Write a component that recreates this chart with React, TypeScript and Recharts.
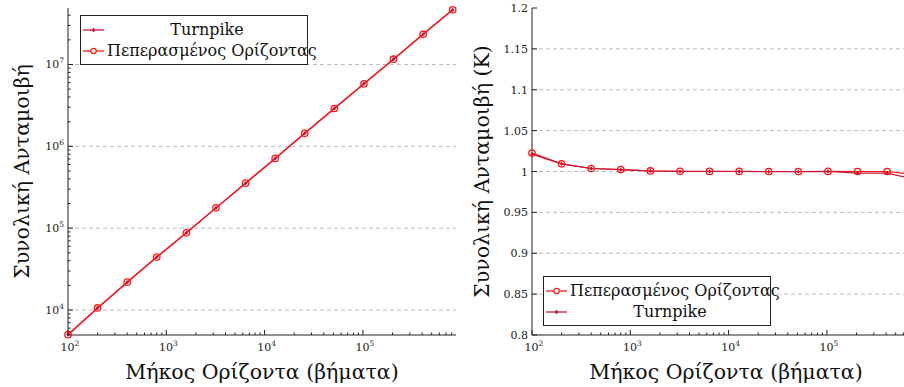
import { Label, Legend, Line, LineChart, ReferenceLine, XAxis, YAxis } from "recharts";

const FONT = "'DejaVu Serif', serif";
const RED = "#ff1414";
const CRIMSON = "#c8143c";

const horizons = [100, 200, 400, 800, 1600, 3200, 6400, 12800, 25600, 51200, 102400, 204800, 409600, 819200];

// total reward (left panel)
const totalTurnpike = [5000, 10600, 21900, 44300, 87700, 177000, 355000, 712000, 1440000, 2900000, 5800000, 11600000, 23400000, 46500000];
const totalFinite = [5000, 10600, 21900, 44300, 87700, 177000, 355000, 712000, 1440000, 2900000, 5800000, 11600000, 23400000, 46600000];

// ratio K (right panel)
const kFinite = [1.0225, 1.0094, 1.0037, 1.0024, 1.0007, 1.0002, 1.0001, 1.0001, 1.0, 1.0, 1.0001, 1.0, 1.0, 0.996];
const kTurnpike = [1.0212, 1.0094, 1.0037, 1.0022, 1.0006, 1.0, 1.0, 1.0, 0.9998, 0.9998, 1.0, 0.998, 0.998, 0.99];

const xDomain = [100, 885000];
const yLogDomain = [4950, 49000000];
const yLogGrid = [1e4, 1e5, 1e6, 1e7];
const kTicks = [0.8, 0.85, 0.9, 0.95, 1, 1.05, 1.1, 1.15, 1.2];
const kGrid = [0.85, 0.9, 0.95, 1, 1.05, 1.1, 1.15];

const xLabel = "Μήκος Ορίζοντα (βήματα)";
const yLabelLeft = "Συνολική Ανταμοιβή";
const yLabelRight = "Συνολική Ανταμοιβή (Κ)";
const nameFinite = "Πεπερασμένος Ορίζοντας";
const nameTurnpike = "Turnpike";

function logTicks(lo: number, hi: number) {
  const out: number[] = [];
  for (let e = Math.floor(Math.log10(lo)); e <= Math.ceil(Math.log10(hi)); e++) {
    for (let m = 1; m < 10; m++) {
      const v = m * Math.pow(10, e);
      if (v >= lo && v <= hi) out.push(v);
    }
  }
  return out;
}

const isPow10 = (v: number) => Math.abs(Math.log10(v) - Math.round(Math.log10(v))) < 1e-9;

const xTicks = logTicks(xDomain[0], xDomain[1]);
const yLogTicks = logTicks(yLogDomain[0], yLogDomain[1]);

const leftData = horizons.map((h, i) => ({ h, turnpike: totalTurnpike[i], finite: totalFinite[i] }));
const rightData = horizons.map((h, i) => ({ h, finite: kFinite[i], turnpike: kTurnpike[i] }));

function Pow10({ x, y, exp, anchor }: any) {
  return (
    <text x={x} y={y} textAnchor={anchor} fontFamily={FONT} fontSize={11} fill="#222">
      <tspan>10</tspan>
      <tspan dy={-5} fontSize={7.5}>{exp}</tspan>
    </text>
  );
}

const bottomLogTick = (props: any) => {
  const { x, y, payload } = props;
  const major = isPow10(payload.value);
  return (
    <g>
      <line x1={x} y1={y} x2={x} y2={y - (major ? 5 : 2.5)} stroke="#222" />
      {major && <Pow10 x={x + 2} y={y + 16} exp={Math.round(Math.log10(payload.value))} anchor="middle" />}
    </g>
  );
};

const topLogTick = (props: any) => {
  const { x, y, payload } = props;
  const major = isPow10(payload.value);
  return <line x1={x} y1={y} x2={x} y2={y + (major ? 5 : 2.5)} stroke="#222" />;
};

const leftLogTick = (props: any) => {
  const { x, y, payload } = props;
  const major = isPow10(payload.value);
  return (
    <g>
      <line x1={x} y1={y} x2={x + (major ? 5 : 2.5)} y2={y} stroke="#222" />
      {major && <Pow10 x={x - 4} y={y + 4} exp={Math.round(Math.log10(payload.value))} anchor="end" />}
    </g>
  );
};

const rightLogTick = (props: any) => {
  const { x, y, payload } = props;
  const major = isPow10(payload.value);
  return <line x1={x} y1={y} x2={x - (major ? 5 : 2.5)} y2={y} stroke="#222" />;
};

const leftLinTick = (props: any) => {
  const { x, y, payload } = props;
  return (
    <g>
      <line x1={x} y1={y} x2={x + 5} y2={y} stroke="#222" />
      <text x={x - 4} y={y + 4} textAnchor="end" fontFamily={FONT} fontSize={11} fill="#222">
        {String(Number(payload.value.toFixed(2)))}
      </text>
    </g>
  );
};

const rightLinTick = (props: any) => {
  const { x, y } = props;
  return <line x1={x} y1={y} x2={x - 5} y2={y} stroke="#222" />;
};

const circleDot = (props: any) => {
  const { cx, cy, index } = props;
  if (cx == null || cy == null) return <g key={`c-${index}`} />;
  return <circle key={`c-${index}`} cx={cx} cy={cy} r={3.2} stroke={RED} strokeWidth={1.3} fill="none" />;
};

const diamondDot = (props: any) => {
  const { cx, cy, index } = props;
  if (cx == null || cy == null) return <g key={`d-${index}`} />;
  return (
    <path
      key={`d-${index}`}
      d={`M${cx},${cy - 2.2}L${cx + 1.8},${cy}L${cx},${cy + 2.2}L${cx - 1.8},${cy}Z`}
      fill={CRIMSON}
    />
  );
};

function LegendBox({ payload, order }: any) {
  const items = order.map((n: string) => (payload || []).find((p: any) => p.value === n)).filter(Boolean);
  return (
    <div style={{ border: "1px solid #222", background: "#fff", width: 226, padding: "3px 0", fontFamily: FONT, fontSize: 16, color: "#111" }}>
      {items.map((p: any) => {
        const finite = p.value === nameFinite;
        const c = finite ? RED : CRIMSON;
        return (
          <div key={p.value} style={{ display: "flex", alignItems: "center", height: 21 }}>
            <svg width={26} height={12} style={{ flex: "none" }}>
              <line x1={2} y1={6} x2={23} y2={6} stroke={c} strokeWidth={1.3} />
              {finite ? (
                <circle cx={12.5} cy={6} r={2.7} stroke={c} strokeWidth={1.2} fill="#fff" />
              ) : (
                <path d="M12.5,3.6L14.3,6L12.5,8.4L10.7,6Z" fill={c} />
              )}
            </svg>
            <span style={{ flex: 1, textAlign: "center", whiteSpace: "nowrap" }}>{p.value}</span>
          </div>
        );
      })}
    </div>
  );
}

const yTitle = (text: string) => (props: any) => {
  const { viewBox } = props;
  const cx = viewBox.x + 21;
  const cy = viewBox.y + viewBox.height / 2;
  return (
    <text x={cx} y={cy} transform={`rotate(-90 ${cx} ${cy})`} textAnchor="middle" fontFamily={FONT} fontSize={20.5} fill="#111">
      {text}
    </text>
  );
};

const xTitle = (props: any) => {
  const { viewBox } = props;
  return (
    <text x={viewBox.x + viewBox.width / 2} y={viewBox.y + 44} textAnchor="middle" fontFamily={FONT} fontSize={20.5} fill="#111">
      {xLabel}
    </text>
  );
};

function TotalChart() {
  return (
    <LineChart width={460} height={387} data={leftData} margin={{ top: 8, right: 4, bottom: 0, left: 8 }}>
      <XAxis dataKey="h" type="number" scale="log" domain={xDomain} ticks={xTicks} interval={0}
        tickSize={0} tickMargin={0} tickLine={false} tick={bottomLogTick} axisLine={{ stroke: "#222" }} height={52}>
        <Label content={xTitle} />
      </XAxis>
      <XAxis xAxisId="top" orientation="top" dataKey="h" type="number" scale="log" domain={xDomain}
        ticks={xTicks} interval={0} tickSize={0} tickMargin={0} tickLine={false} tick={topLogTick} axisLine={{ stroke: "#222" }} height={0} />
      <YAxis type="number" scale="log" domain={yLogDomain} ticks={yLogTicks} interval={0}
        tickSize={0} tickMargin={0} tickLine={false} tick={leftLogTick} axisLine={{ stroke: "#222" }} width={60}>
        <Label content={yTitle(yLabelLeft)} />
      </YAxis>
      <YAxis yAxisId="right" orientation="right" type="number" scale="log" domain={yLogDomain} ticks={yLogTicks}
        interval={0} tickSize={0} tickMargin={0} tickLine={false} tick={rightLogTick} axisLine={{ stroke: "#222" }} width={0} />
      {yLogGrid.map((v) => (
        <ReferenceLine key={v} y={v} stroke="#bdbdbd" strokeDasharray="4 3" />
      ))}
      <Legend layout="vertical" align="center" verticalAlign="middle"
        wrapperStyle={{ left: 80, top: 15, width: "auto" }}
        content={(p: any) => <LegendBox payload={p.payload} order={[nameTurnpike, nameFinite]} />} />
      <Line dataKey="turnpike" name={nameTurnpike} stroke={CRIMSON} strokeWidth={1.3} dot={diamondDot} isAnimationActive={false} />
      <Line dataKey="finite" name={nameFinite} stroke={RED} strokeWidth={1.3} dot={circleDot} isAnimationActive={false} />
    </LineChart>
  );
}

function RatioChart() {
  return (
    <LineChart width={464} height={387} data={rightData} margin={{ top: 8, right: 4, bottom: 0, left: 8 }}>
      <XAxis dataKey="h" type="number" scale="log" domain={xDomain} ticks={xTicks} interval={0}
        tickSize={0} tickMargin={0} tickLine={false} tick={bottomLogTick} axisLine={{ stroke: "#222" }} height={52}>
        <Label content={xTitle} />
      </XAxis>
      <XAxis xAxisId="top" orientation="top" dataKey="h" type="number" scale="log" domain={xDomain}
        ticks={xTicks} interval={0} tickSize={0} tickMargin={0} tickLine={false} tick={topLogTick} axisLine={{ stroke: "#222" }} height={0} />
      <YAxis type="number" domain={[0.8, 1.2]} ticks={kTicks} interval={0}
        tickSize={0} tickMargin={0} tickLine={false} tick={leftLinTick} axisLine={{ stroke: "#222" }} width={64}>
        <Label content={yTitle(yLabelRight)} />
      </YAxis>
      <YAxis yAxisId="right" orientation="right" type="number" domain={[0.8, 1.2]} ticks={kTicks}
        interval={0} tickSize={0} tickMargin={0} tickLine={false} tick={rightLinTick} axisLine={{ stroke: "#222" }} width={0} />
      {kGrid.map((v) => (
        <ReferenceLine key={v} y={v} stroke="#bdbdbd" strokeDasharray="4 3" />
      ))}
      <Legend layout="vertical" align="center" verticalAlign="middle"
        wrapperStyle={{ left: 83, top: 276, width: "auto" }}
        content={(p: any) => <LegendBox payload={p.payload} order={[nameFinite, nameTurnpike]} />} />
      <Line dataKey="finite" name={nameFinite} stroke={RED} strokeWidth={1.2} dot={circleDot} isAnimationActive={false} />
      <Line dataKey="turnpike" name={nameTurnpike} stroke={CRIMSON} strokeWidth={1.2} dot={diamondDot} isAnimationActive={false} />
    </LineChart>
  );
}

export default function App() {
  return (
    <div style={{ position: "fixed", left: 0, top: 0, width: 904, height: 387, overflow: "hidden", background: "#fff" }}>
      <div style={{ position: "absolute", left: 0, top: 0 }}>
        <TotalChart />
      </div>
      <div style={{ position: "absolute", left: 460, top: 0 }}>
        <RatioChart />
      </div>
    </div>
  );
}
